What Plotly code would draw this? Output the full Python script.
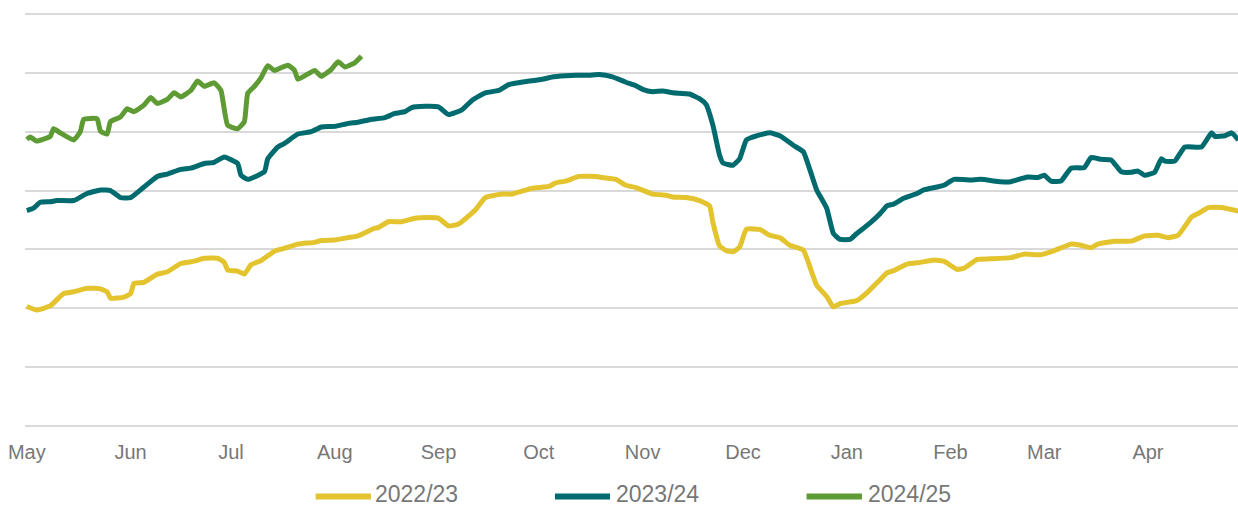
import pandas as pd
import plotly.graph_objects as go

# Day offsets since 1 May of each season, and values (arbitrary index units)
season_start = pd.Timestamp("2022-05-01")

days_2022 = [0, 3, 7, 11, 14, 18, 22, 24, 25, 29, 31, 32, 35, 39, 42, 46, 50, 53, 57, 59, 60, 63, 65, 67,
             70, 74, 77, 81, 86, 88, 92, 96, 99, 104, 105, 108, 112, 116, 120, 123, 126, 129, 134, 137,
             142, 145, 151, 156, 158, 161, 165, 170, 172, 176, 179, 182, 187, 191, 193, 197, 201, 204,
             205, 207, 209, 211, 213, 215, 219, 222, 225, 228, 232, 234, 236, 239, 241, 243, 248, 251,
             255, 257, 259, 263, 267, 271, 274, 278, 280, 284, 288, 294, 298, 303, 307, 312, 315, 318,
             320, 325, 330, 334, 338, 341, 344, 348, 350, 353, 357, 362]
vals_2022 = [20.3, 19.7, 20.4, 22.5, 22.8, 23.4, 23.3, 22.8, 21.7, 21.9, 22.5, 24.2, 24.4, 25.8, 26.2,
             27.6, 28.0, 28.5, 28.5, 27.8, 26.5, 26.3, 25.8, 27.4, 28.1, 29.7, 30.2, 30.9, 31.2, 31.5,
             31.6, 32.0, 32.3, 33.6, 33.7, 34.7, 34.7, 35.3, 35.4, 35.3, 34.0, 34.3, 36.7, 38.8, 39.4,
             39.4, 40.4, 40.7, 41.3, 41.6, 42.4, 42.4, 42.2, 41.9, 40.9, 40.5, 39.4, 39.2, 38.9, 38.8,
             38.3, 37.4, 34.6, 30.6, 29.8, 29.6, 30.4, 33.4, 33.4, 32.4, 32.0, 30.7, 29.9, 27.0, 23.9,
             22.0, 20.2, 20.8, 21.3, 22.6, 24.9, 26.0, 26.4, 27.5, 27.8, 28.2, 28.0, 26.6, 26.8, 28.3,
             28.4, 28.6, 29.2, 29.1, 29.8, 30.9, 30.7, 30.3, 30.9, 31.4, 31.4, 32.3, 32.4, 32.0, 32.4,
             35.5, 36.1, 37.1, 37.1, 36.5]

days_2023 = [0, 2, 4, 7, 9, 14, 18, 22, 25, 28, 31, 35, 39, 42, 46, 49, 53, 56, 59, 63, 64, 66, 71, 72,
             75, 77, 81, 85, 88, 92, 96, 99, 103, 107, 110, 113, 115, 119, 123, 126, 130, 133, 137, 141,
             144, 149, 154, 157, 161, 164, 168, 171, 175, 179, 182, 184, 187, 190, 193, 198, 201, 203,
             205, 207, 208, 211, 213, 215, 218, 222, 225, 229, 232, 234, 236, 239, 241, 243, 246, 248,
             252, 255, 257, 259, 262, 266, 268, 272, 274, 277, 282, 285, 291, 294, 299, 302, 304, 306,
             309, 312, 316, 318, 321, 324, 327, 330, 332, 334, 337, 339, 340, 343, 346, 351, 354, 355,
             358, 360, 362]
vals_2023 = [36.6, 37.0, 38.0, 38.1, 38.3, 38.3, 39.5, 40.1, 40.0, 38.8, 38.8, 40.6, 42.4, 42.8, 43.6,
             43.8, 44.6, 44.8, 45.7, 44.6, 42.6, 41.9, 43.2, 45.4, 47.4, 48.0, 49.6, 50.0, 50.8, 50.9,
             51.4, 51.6, 52.1, 52.4, 53.1, 53.4, 54.1, 54.3, 54.2, 52.9, 53.7, 55.3, 56.6, 57.0, 58.0,
             58.5, 58.9, 59.3, 59.5, 59.6, 59.6, 59.7, 59.3, 58.4, 57.8, 57.2, 56.8, 56.9, 56.6, 56.4,
             55.6, 54.6, 51.1, 46.0, 44.7, 44.3, 45.4, 48.6, 49.3, 49.8, 49.3, 47.7, 46.6, 43.5, 40.1,
             37.0, 32.7, 31.7, 31.7, 32.7, 34.5, 36.1, 37.4, 37.7, 38.7, 39.5, 40.1, 40.6, 40.9, 41.9,
             41.8, 41.9, 41.5, 41.5, 42.3, 42.2, 42.6, 41.6, 41.6, 43.8, 43.9, 45.6, 45.3, 45.2, 43.2,
             43.1, 43.3, 42.6, 43.1, 45.4, 45.0, 45.0, 47.4, 47.4, 49.8, 49.2, 49.3, 49.8, 48.6]

days_2024 = [0, 1, 3, 7, 8, 10, 14, 16, 17, 21, 22, 24, 25, 28, 30, 32, 35, 37, 39, 42, 44, 46, 49, 51,
             53, 56, 58, 60, 63, 65, 66, 68, 70, 72, 74, 78, 80, 81, 86, 88, 91, 93, 95, 98, 100]
vals_2024 = [48.7, 49.1, 48.4, 49.2, 50.5, 49.8, 48.6, 50.0, 52.1, 52.2, 50.1, 49.6, 51.7, 52.5, 53.9,
             53.4, 54.5, 55.8, 54.8, 55.5, 56.6, 55.9, 57.0, 58.6, 57.7, 58.3, 57.0, 51.1, 50.5, 51.7,
             56.5, 57.7, 59.2, 61.2, 60.4, 61.3, 60.4, 58.9, 60.4, 59.4, 60.6, 61.9, 61.0, 61.7, 62.8]

series_names = ["2022/23", "2023/24", "2024/25"]
series_colors = ["#E3C42F", "#006B6E", "#5E9B35"]
series_days = [days_2022, days_2023, days_2024]
series_vals = [vals_2022, vals_2023, vals_2024]

month_labels = ["May", "Jun", "Jul", "Aug", "Sep", "Oct", "Nov", "Dec", "Jan", "Feb", "Mar", "Apr"]

fig = go.Figure()
for name, color, d, v in zip(series_names, series_colors, series_days, series_vals):
    x = season_start + pd.to_timedelta(d, unit="D")
    fig.add_trace(go.Scatter(x=x, y=v, mode="lines", name=name,
                             line=dict(color=color, width=5, shape="spline", smoothing=0.4),
                             showlegend=False))

tickvals = [season_start + pd.DateOffset(months=i) for i in range(12)]
x0 = season_start + pd.Timedelta(days=-0.54)
x1 = season_start + pd.Timedelta(days=361.9)

font_color = "#777777"
fig.update_layout(
    width=1238, height=508,
    margin=dict(l=25, r=0, t=11, b=82),
    paper_bgcolor="white", plot_bgcolor="white",
    font=dict(family="Liberation Sans, Arial, sans-serif", color=font_color),
    xaxis=dict(type="date", range=[x0, x1], tickvals=tickvals, ticktext=month_labels,
               showgrid=False, zeroline=False, showline=False, ticks="",
               ticklabelstandoff=12,
               tickfont=dict(size=20, color=font_color)),
    yaxis=dict(range=[0, 70.5], tickvals=[0, 10, 20, 30, 40, 50, 60, 70],
               showticklabels=False, showgrid=True,
               gridcolor="#D9D9D9", gridwidth=2, zeroline=True, zerolinecolor="#D9D9D9",
               zerolinewidth=2, showline=False, ticks=""),
)

# custom legend
legend_items = [(0.2396, 0.2852, 0.2880), (0.4369, 0.4823, 0.4860), (0.6443, 0.6900, 0.6940)]
for (lx0, lx1, tx), name, color in zip(legend_items, series_names, series_colors):
    fig.add_shape(type="line", xref="paper", yref="paper", x0=lx0, x1=lx1, y0=-0.170, y1=-0.170,
                  line=dict(color=color, width=6))
    fig.add_annotation(xref="paper", yref="paper", x=tx, y=-0.165, text=name, showarrow=False,
                       xanchor="left", yanchor="middle", borderpad=0,
                       font=dict(size=23, color=font_color))

fig.write_html("out.html", config={"displayModeBar": False},
               post_script="document.body.style.margin='0';document.body.style.padding='0';"
                           "document.body.style.overflow='hidden';")
